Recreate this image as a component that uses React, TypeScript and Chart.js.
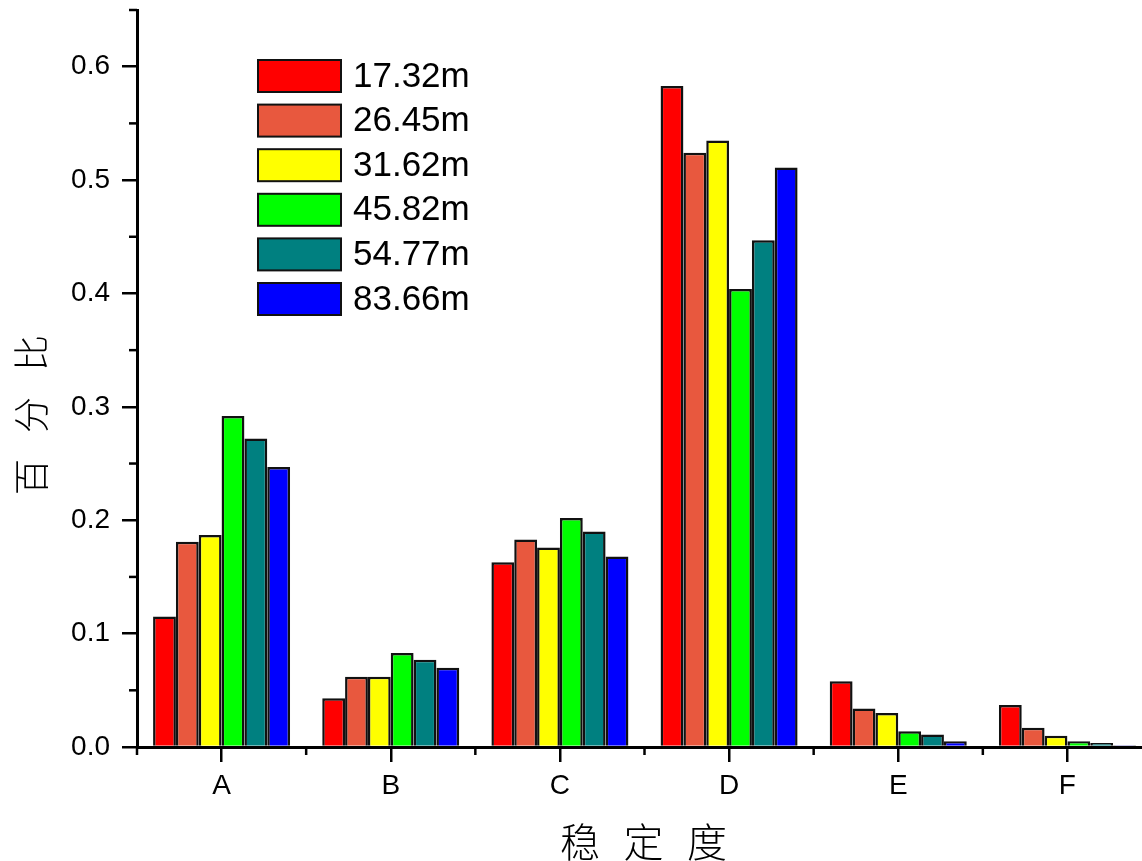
import React, { useEffect, useRef } from "react";
import { Chart, registerables } from "chart.js";

Chart.register(...registerables);

const CATEGORIES = ["A", "B", "C", "D", "E", "F"];
const SERIES_NAMES = ["17.32m", "26.45m", "31.62m", "45.82m", "54.77m", "83.66m"];
const SERIES_COLORS = ["#FF0000", "#E8583E", "#FFFF00", "#00FF00", "#008080", "#0000FF"];

const H17 = [0.115, 0.043, 0.163, 0.583, 0.058, 0.037];
const H26 = [0.181, 0.062, 0.183, 0.524, 0.034, 0.017];
const H31 = [0.187, 0.062, 0.176, 0.535, 0.030, 0.010];
const H45 = [0.292, 0.083, 0.202, 0.404, 0.014, 0.005];
const H54 = [0.272, 0.077, 0.190, 0.447, 0.011, 0.0035];
const H83 = [0.247, 0.070, 0.168, 0.511, 0.005, 0.0015];
const SERIES_VALUES = [H17, H26, H31, H45, H54, H83];

const Y_TICKS = [0, 0.1, 0.2, 0.3, 0.4, 0.5, 0.6];
const Y_TICK_LABELS = ["0.0", "0.1", "0.2", "0.3", "0.4", "0.5", "0.6"];
const Y_MINOR = [0.05, 0.15, 0.25, 0.35, 0.45, 0.55, 0.65];
const Y_MAX = 0.65;
const Y_TITLE = ["百", "分", "比"];
const X_TITLE = ["稳", "定", "度"];

const FONT = "'Liberation Sans', Arial, sans-serif";
const CJK = "'Noto Sans CJK SC', sans-serif";

const decorPlugin = {
  id: "decor",
  afterDraw(chart: any) {
    const ctx = chart.ctx;
    const x = chart.scales.x;
    const y = chart.scales.y;
    const area = chart.chartArea;
    ctx.save();
    ctx.strokeStyle = "#000";
    ctx.lineWidth = 2.5;
    // y minor ticks
    Y_MINOR.forEach((v) => {
      const py = y.getPixelForValue(v);
      ctx.beginPath();
      ctx.moveTo(area.left - 8, py);
      ctx.lineTo(area.left, py);
      ctx.stroke();
    });
    // x minor ticks at category boundaries
    for (let i = 0; i <= CATEGORIES.length; i++) {
      const px = x.getPixelForValue(i - 0.5);
      ctx.beginPath();
      ctx.moveTo(px, area.bottom);
      ctx.lineTo(px, area.bottom + 8);
      ctx.stroke();
    }
    // legend
    const lx = 258, ly = 60, bw = 83, bh = 32, gap = 44.6;
    ctx.font = `35px ${FONT}`;
    ctx.textBaseline = "middle";
    ctx.textAlign = "left";
    SERIES_NAMES.forEach((name, i) => {
      const top = ly + i * gap;
      ctx.fillStyle = SERIES_COLORS[i];
      ctx.fillRect(lx, top, bw, bh);
      ctx.lineWidth = 2;
      ctx.strokeStyle = "#111";
      ctx.strokeRect(lx, top, bw, bh);
      ctx.fillStyle = "#000";
      ctx.fillText(name, lx + 95, top + bh / 2 + 1);
    });
    // y title
    ctx.font = `300 36px ${CJK}`;
    ctx.textAlign = "center";
    ctx.textBaseline = "middle";
    ctx.fillStyle = "#000";
    Y_TITLE.forEach((ch, i) => {
      ctx.save();
      ctx.translate(31, 477 - i * 62);
      ctx.rotate(-Math.PI / 2);
      ctx.fillText(ch, 0, 0);
      ctx.restore();
    });
    // x title
    ctx.font = `300 40px ${CJK}`;
    X_TITLE.forEach((ch, i) => {
      ctx.fillText(ch, 580 + i * 63.5, 842);
    });
    ctx.restore();
  },
};

export default function App() {
  const ref = useRef<HTMLCanvasElement | null>(null);
  useEffect(() => {
    if (!ref.current) return;
    const chart = new Chart(ref.current, {
      type: "bar",
      data: {
        labels: CATEGORIES,
        datasets: SERIES_NAMES.map((name, i) => ({
          label: name,
          data: SERIES_VALUES[i],
          backgroundColor: SERIES_COLORS[i],
          borderColor: "#111",
          borderWidth: 2.5,
          categoryPercentage: 0.81,
          barPercentage: 1.0,
        })),
      },
      options: {
        animation: false,
        responsive: false,
        devicePixelRatio: 1,
        layout: { padding: { top: 10, left: 0, right: 0, bottom: 0 } },
        plugins: { legend: { display: false }, tooltip: { enabled: false } },
        scales: {
          x: {
            type: "category",
            offset: true,
            grid: {
              offset: false,
              drawOnChartArea: false,
              drawTicks: true,
              tickLength: 15,
              color: "#000",
              lineWidth: 2.5,
            },
            border: { display: true, color: "#000", width: 3 },
            ticks: {
              color: "#000",
              font: { family: FONT, size: 28 },
              padding: 7,
              maxRotation: 0,
            },
            afterFit(scale: any) {
              scale.height = 114;
              scale.paddingLeft = 0;
              scale.paddingRight = 0;
            },
          },
          y: {
            min: 0,
            max: Y_MAX,
            grid: {
              drawOnChartArea: false,
              drawTicks: true,
              tickLength: 15,
              color: "#000",
              lineWidth: 2.5,
            },
            border: { display: true, color: "#000", width: 3 },
            ticks: {
              color: "#000",
              font: { family: FONT, size: 28 },
              padding: 12,
              callback: (_v: any, idx: number) => Y_TICK_LABELS[idx],
            },
            afterBuildTicks(scale: any) {
              scale.ticks = Y_TICKS.map((v) => ({ value: v }));
            },
            afterFit(scale: any) {
              scale.width = 137;
              scale.paddingTop = 0;
              scale.paddingBottom = 0;
            },
          },
        },
      },
      plugins: [decorPlugin],
    } as any);
    return () => chart.destroy();
  }, []);
  return (
    <div
      style={{
        position: "fixed",
        left: 0,
        top: 0,
        width: 1142,
        height: 861,
        overflow: "hidden",
        background: "#fff",
      }}
    >
      <canvas ref={ref} width={1152} height={861} style={{ display: "block", width: 1152, height: 861 }} />
    </div>
  );
}
